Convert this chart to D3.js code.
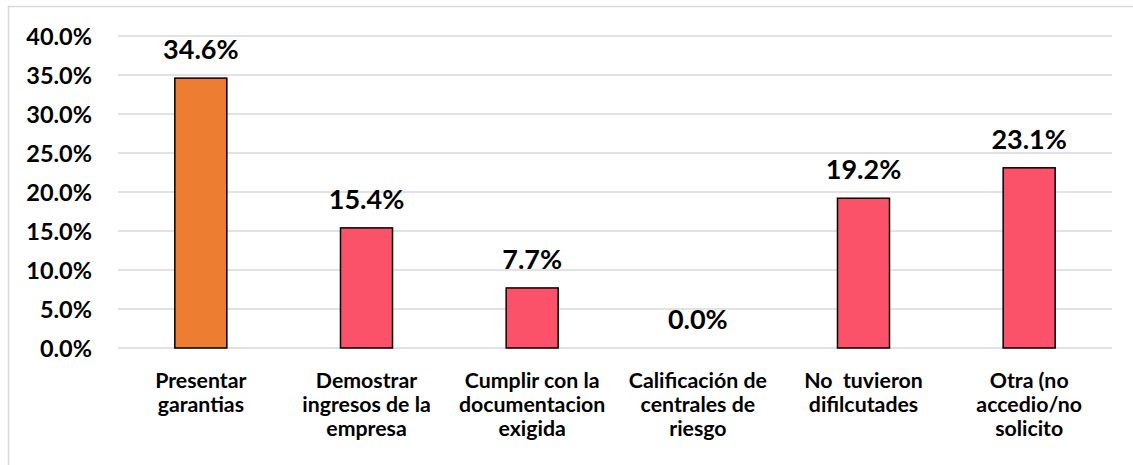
<!DOCTYPE html>
<html><head><meta charset="utf-8">
<script src="https://cdn.jsdelivr.net/npm/d3@7"></script>
<style>body{margin:0;background:#fff}svg{display:block}</style>
</head><body>
<script>
const categories = [
  ["Presentar","garantias"],
  ["Demostrar","ingresos de la","empresa"],
  ["Cumplir con la","documentacion","exigida"],
  ["Calificación de","centrales de","riesgo"],
  ["No  tuvieron","difilcutades"],
  ["Otra (no","accedio/no","solicito"]
];
const values = [0.346, 0.154, 0.077, 0.0, 0.192, 0.231];
const barColors = ["#ED7D31","#FB526A","#FB526A","#FB526A","#FB526A","#FB526A"];
const yTicks = [0,0.05,0.10,0.15,0.20,0.25,0.30,0.35,0.40];

const W=1133,H=465;
const font = "Lato, 'Liberation Sans', Arial, sans-serif";
const svg = d3.select("body").append("svg").attr("width",W).attr("height",H);

svg.append("rect").attr("x",8.5).attr("y",6.5).attr("width",W).attr("height",H)
  .attr("fill","#fff").attr("stroke","#d9d9d9").attr("stroke-width",1.5);

const x = d3.scaleBand().domain(d3.range(values.length)).range([118,1112])
  .paddingInner(0.686).paddingOuter(0.343);
const y = d3.scaleLinear().domain([0,0.40]).range([348,36]);

// gridlines
svg.append("g").selectAll("line").data(yTicks).join("line")
  .attr("x1",118).attr("x2",1112)
  .attr("y1",d=>y(d)).attr("y2",d=>y(d))
  .attr("stroke","#d9d9d9").attr("stroke-width",1.5);

// y axis labels
const yAxis = d3.axisLeft(y).tickValues(yTicks).tickFormat(d3.format(".1%")).tickSize(0).tickPadding(0);
const ga = svg.append("g").attr("transform","translate(92,0)").call(yAxis);
ga.select(".domain").remove();
ga.selectAll("text").attr("font-family",font).attr("font-weight","bold")
  .attr("font-size",23.5).attr("fill","#000").attr("dy","0.36em");

// bars
svg.append("g").selectAll("rect").data(values).join("rect")
  .attr("x",(d,i)=>x(i)).attr("width",x.bandwidth())
  .attr("y",d=>y(d)).attr("height",d=>y(0)-y(d))
  .attr("fill",(d,i)=>barColors[i])
  .attr("stroke",d=>d>0?"#000":"none").attr("stroke-width",1.5);

// data labels
svg.append("g").selectAll("text").data(values).join("text")
  .attr("x",(d,i)=>x(i)+x.bandwidth()/2).attr("y",d=>y(d)-19)
  .attr("text-anchor","middle").attr("font-family",font).attr("font-weight","bold")
  .attr("font-size",27).attr("fill","#000")
  .text(d=>d3.format(".1%")(d));

// category labels
const cg = svg.append("g").selectAll("text").data(categories).join("text")
  .attr("text-anchor","middle").attr("font-family",font).attr("font-weight","bold")
  .attr("font-size",21.3).attr("fill","#000").style("white-space","pre")
  .attr("transform",(d,i)=>`translate(${x(i)+x.bandwidth()/2},388)`);
cg.selectAll("tspan").data(d=>d).join("tspan")
  .attr("x",0).attr("y",(d,j)=>j*24).text(d=>d);
</script>
</body></html>
